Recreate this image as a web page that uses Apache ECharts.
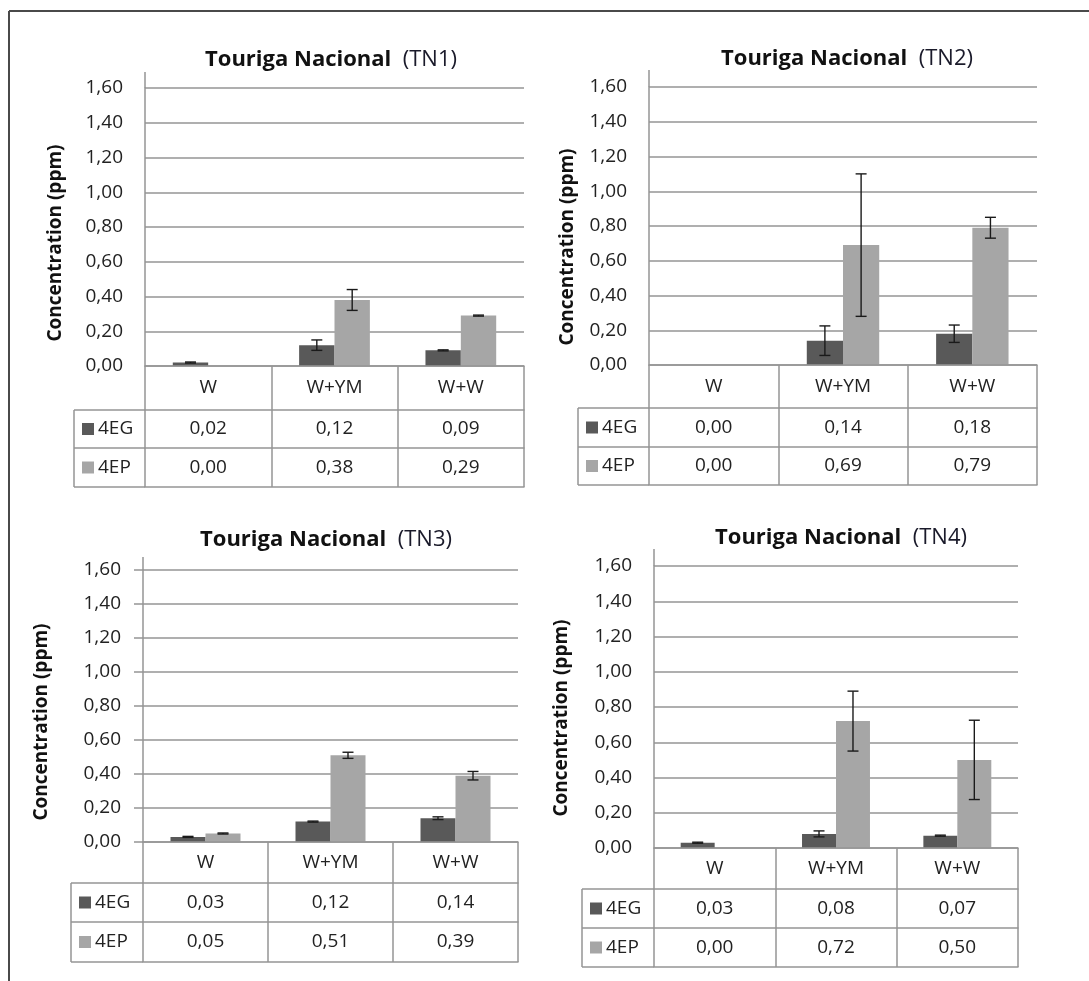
<!DOCTYPE html>
<html>
<head>
<meta charset="utf-8">
<script src="https://cdn.jsdelivr.net/npm/echarts@6/dist/echarts.min.js"></script>
<style>html,body{margin:0;padding:0;background:#fff;}#c{width:1089px;height:981px;}</style>
</head>
<body>
<div id="c"></div>
<script>
// ---------- DATA ----------
const categories = ['W', 'W+YM', 'W+W'];
const seriesNames = ['4EG', '4EP'];
const yTickLabels = ['0,00', '0,20', '0,40', '0,60', '0,80', '1,00', '1,20', '1,40', '1,60'];
const panelTitles = ['TN1', 'TN2', 'TN3', 'TN4'];
const titleMain = 'Touriga Nacional';
const yAxisTitle = 'Concentration (ppm)';

const tn1_4EG = [0.02, 0.12, 0.09];
const tn1_4EP = [0.00, 0.38, 0.29];
const tn1_err4EG = [0.003, 0.03, 0.003];
const tn1_err4EP = [null, 0.06, 0.003];

const tn2_4EG = [0.00, 0.14, 0.18];
const tn2_4EP = [0.00, 0.69, 0.79];
const tn2_err4EG = [null, 0.085, 0.05];
const tn2_err4EP = [null, 0.41, 0.06];

const tn3_4EG = [0.03, 0.12, 0.14];
const tn3_4EP = [0.05, 0.51, 0.39];
const tn3_err4EG = [0.003, 0.003, 0.008];
const tn3_err4EP = [0.003, 0.018, 0.025];

const tn4_4EG = [0.03, 0.08, 0.07];
const tn4_4EP = [0.00, 0.72, 0.50];
const tn4_err4EG = [0.003, 0.017, 0.003];
const tn4_err4EP = [null, 0.17, 0.225];

const panelData = [
  [tn1_4EG, tn1_4EP, tn1_err4EG, tn1_err4EP],
  [tn2_4EG, tn2_4EP, tn2_err4EG, tn2_err4EP],
  [tn3_4EG, tn3_4EP, tn3_err4EG, tn3_err4EP],
  [tn4_4EG, tn4_4EP, tn4_err4EG, tn4_err4EP]
];

// ---------- LAYOUT / STYLE ----------
const FONT = '"Open Sans", "DejaVu Sans", sans-serif';
const COLORS = ['#595959', '#a6a6a6'];
const LINE = '#959595';
const LW = 1.5;
const TXT = '#222222';
const GAP = 0.44;
const layout = [
  {L:145, R:524, top:88, zero:366, axisTop:72, rows:[44,38,39], legL:74, tx:331, ty:60, ax:56, ay:243, tick:0},
  {L:649, R:1037, top:87, zero:365, axisTop:70, rows:[43,39,38], legL:578, tx:847, ty:59, ax:568, ay:247, tick:0},
  {L:143, R:518, top:570, zero:842, axisTop:557, rows:[41,39,40], legL:71, tx:326, ty:540, ax:42, ay:722, tick:9},
  {L:654, R:1018, top:566, zero:848, axisTop:549, rows:[41,39,39], legL:582, tx:841, ty:538, ax:562, ay:718, tick:0}
];

const fmt = v => v.toFixed(2).replace('.', ',');

function errRenderer(sign) {
  return function (params, api) {
    const idx = api.value(0), val = api.value(1), e = api.value(2);
    const band = api.size([1, 0])[0];
    const barW = band * (1 - GAP) / 2;
    const x = api.coord([idx, val])[0] + sign * barW / 2;
    const yHi = api.coord([idx, val + e])[1];
    const yLo = api.coord([idx, val - e])[1];
    const cap = 5.5;
    const st = {stroke: '#1a1a1a', lineWidth: 1.4};
    return {type: 'group', children: [
      {type: 'line', shape: {x1: x, y1: yHi, x2: x, y2: yLo}, style: st},
      {type: 'line', shape: {x1: x - cap, y1: yHi, x2: x + cap, y2: yHi}, style: st},
      {type: 'line', shape: {x1: x - cap, y1: yLo, x2: x + cap, y2: yLo}, style: st}
    ]};
  };
}

const grid = [], xAxis = [], yAxis = [], series = [], legend = [], graphic = [];

layout.forEach((p, gi) => {
  const [eg, ep, errEg, errEp] = panelData[gi];
  grid.push({left: p.L, top: p.top, width: p.R - p.L, height: p.zero - p.top, containLabel: false, outerBoundsMode: 'none'});
  const baseX = gi * 4;
  const lineStyle = {color: LINE, width: LW};
  const rowOff = [0, p.rows[0], p.rows[0] + p.rows[1], p.rows[0] + p.rows[1] + p.rows[2]];
  const rowLabels = [
    (v) => v,
    (v, i) => fmt(eg[i]),
    (v, i) => fmt(ep[i])
  ];
  for (let r = 0; r < 4; r++) {
    xAxis.push({
      gridIndex: gi, type: 'category', data: categories, position: 'bottom', offset: rowOff[r],
      boundaryGap: true,
      axisLine: {show: true, lineStyle: lineStyle},
      axisTick: {show: r < 3, length: r < 3 ? p.rows[r] : 0, lineStyle: lineStyle, alignWithLabel: false},
      axisLabel: r < 3 ? {show: true, formatter: rowLabels[r], margin: p.rows[r] / 2, verticalAlign: 'middle',
        fontSize: 19, color: TXT, fontFamily: FONT, interval: 0} : {show: false},
      splitLine: {show: false}, z: 3
    });
  }
  yAxis.push({
    gridIndex: gi, type: 'value', min: 0, max: 1.6, interval: 0.2,
    axisLine: {show: true, lineStyle: lineStyle},
    axisTick: {show: p.tick > 0, length: p.tick, lineStyle: lineStyle},
    axisLabel: {formatter: v => yTickLabels[Math.round(v / 0.2)], fontSize: 19, color: TXT, fontFamily: FONT, margin: 22},
    splitLine: {show: true, lineStyle: {color: LINE, width: LW}}
  });
  [eg, ep].forEach((vals, si) => {
    series.push({
      name: seriesNames[si], type: 'bar', xAxisIndex: baseX, yAxisIndex: gi,
      data: vals, barGap: '0%', barCategoryGap: (GAP * 100) + '%',
      itemStyle: {color: COLORS[si]}, z: 2, animation: false
    });
  });
  [errEg, errEp].forEach((errs, si) => {
    const vals = si === 0 ? eg : ep;
    const d = [];
    errs.forEach((e, i) => { if (e != null) d.push([i, vals[i], e]); });
    series.push({
      type: 'custom', xAxisIndex: baseX, yAxisIndex: gi, renderItem: errRenderer(si === 0 ? -1 : 1),
      data: d, encode: {x: 0, y: 1}, z: 5, clip: false, animation: false, silent: true
    });
  });
  // legends inside the table's first column
  const c1 = p.zero + p.rows[0] + p.rows[1] / 2;
  const c2 = p.zero + p.rows[0] + p.rows[1] + p.rows[2] / 2;
  [c1, c2].forEach((cy, si) => {
    legend.push({
      data: [seriesNames[si]], left: p.legL + 8, top: cy - 9.5, padding: 0, selectedMode: false,
      icon: 'rect', itemWidth: 12, itemHeight: 12, itemGap: 0,
      textStyle: {fontSize: 19, color: TXT, fontFamily: FONT, padding: [0, 0, 0, -1]}
    });
  });
  // table's first column borders
  const yA = p.zero + p.rows[0], yB = yA + p.rows[1], yC = yB + p.rows[2];
  [yA, yB, yC].forEach(y => graphic.push({type: 'line', shape: {x1: p.legL, y1: y, x2: p.L, y2: y}, style: {stroke: LINE, lineWidth: LW}, silent: true}));
  graphic.push({type: 'line', shape: {x1: p.legL, y1: yA, x2: p.legL, y2: yC}, style: {stroke: LINE, lineWidth: LW}, silent: true});
  // value axis line extension above the plot
  graphic.push({type: 'line', shape: {x1: p.L, y1: p.axisTop, x2: p.L, y2: p.top}, style: {stroke: LINE, lineWidth: LW}, silent: true});
  // panel title
  graphic.push({type: 'text', x: p.tx, y: p.ty, silent: true, style: {
    text: '{b|' + titleMain + '}{r|  (' + panelTitles[gi] + ')}', align: 'center', verticalAlign: 'middle',
    rich: {b: {fontSize: 22, fontWeight: 'bold', fontFamily: FONT, fill: '#111'}, r: {fontSize: 22, fontFamily: FONT, fill: '#1a1a2a'}}
  }});
  // y axis title
  graphic.push({type: 'text', x: p.ax, y: p.ay, rotation: Math.PI / 2, silent: true, style: {
    text: yAxisTitle, align: 'center', verticalAlign: 'middle', fontSize: 19, fontWeight: 'bold', fontFamily: FONT, fill: '#111'
  }});
});

// outer frame
graphic.push({type: 'line', shape: {x1: 9, y1: 11, x2: 1089, y2: 11}, style: {stroke: '#4a4a4a', lineWidth: 2}, silent: true});
graphic.push({type: 'line', shape: {x1: 9, y1: 11, x2: 9, y2: 981}, style: {stroke: '#4a4a4a', lineWidth: 2}, silent: true});

const chart = echarts.init(document.getElementById('c'), null, {renderer: 'canvas'});
chart.setOption({
  animation: false, backgroundColor: '#fff',
  grid, xAxis, yAxis, series, legend, graphic,
  tooltip: {show: false}
});
</script>
</body>
</html>
